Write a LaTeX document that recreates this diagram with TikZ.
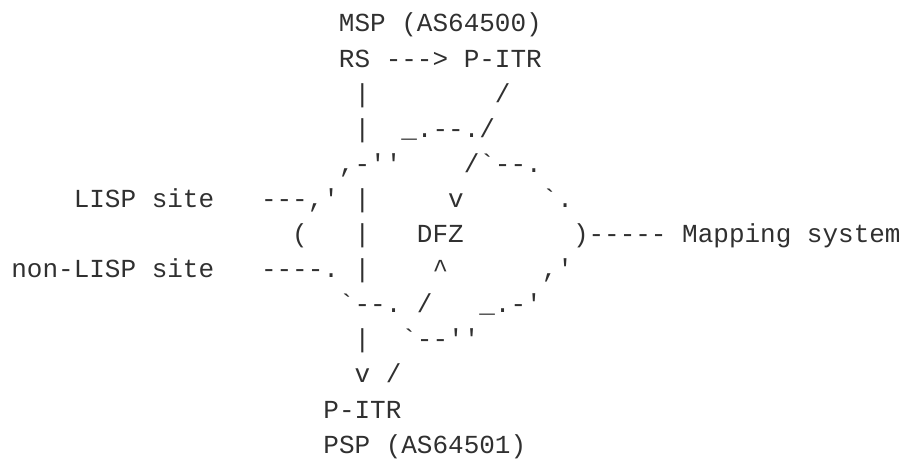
\documentclass[tikz,border=0pt]{standalone}
\usepackage{fontspec}
\setmonofont{Liberation Mono}
\usepackage{tikz}
\usepackage{xcolor}
\definecolor{ink-gray}{HTML}{303030}
\tikzset{
    ascii-art/.style = {font=\ttfamily\fontsize{13}{17}\selectfont, text=ink-gray, inner sep=0pt, anchor=base west},
    ascii-label/.style = {ascii-art},
}

\begin{document}
\begin{tikzpicture}[x=7.8pt, y=-17.55pt]
\useasboundingbox (-5.5pt,16pt) rectangle (445.5pt,-216pt);
% top: map server provider
\node[ascii-label] (msp) at (21,0) {MSP (AS64500)};
\node[ascii-label] (rs) at (21,1) {RS};
\node[ascii-art] (rs-arrow) at (24,1) {--->};
\node[ascii-label] (pitr-top) at (29,1) {P-ITR};
\node[ascii-art] (bar-a) at (22,2) {|};
\node[ascii-art] (slash-a) at (31,2) {/};
\node[ascii-art] (bar-b) at (22,3) {|};
\node[ascii-art] (curve-a) at (25,3) {\_.--./};
% the cloud
\node[ascii-art] (cloud-nw) at (21,4) {,-''};
\node[ascii-art] (cloud-ne) at (29,4) {/`--.};
\node[ascii-label] (lisp-site) at (4,5) {LISP site};
\node[ascii-art] (lisp-link) at (16,5) {---,'};
\node[ascii-art] (bar-c) at (22,5) {|};
\node[ascii-art] (down-tip) at (28,5) {v};
\node[ascii-art] (cloud-e) at (34,5) {`.};
\node[ascii-art] (cloud-w) at (18,6) {(};
\node[ascii-art] (bar-d) at (22,6) {|};
\node[ascii-label] (dfz) at (26,6) {DFZ};
\node[ascii-art] (map-link) at (36,6) {)-----};
\node[ascii-label] (mapping) at (43,6) {Mapping system};
\node[ascii-label] (non-lisp) at (0,7) {non-LISP site};
\node[ascii-art] (non-lisp-link) at (16,7) {----.};
\node[ascii-art] (bar-e) at (22,7) {|};
\node[ascii-art] (up-tip) at (27,7) {\textasciicircum};
\node[ascii-art] (cloud-se) at (34,7) {,'};
\node[ascii-art] (cloud-sw) at (21,8) {`--.};
\node[ascii-art] (slash-b) at (26,8) {/};
\node[ascii-art] (cloud-s) at (30,8) {\_.-'};
% bottom: proxy service provider
\node[ascii-art] (bar-f) at (22,9) {|};
\node[ascii-art] (curve-b) at (25,9) {`--''};
\node[ascii-art] (bottom-tip) at (22,10) {v};
\node[ascii-art] (slash-c) at (24,10) {/};
\node[ascii-label] (pitr-bottom) at (20,11) {P-ITR};
\node[ascii-label] (psp) at (20,12) {PSP (AS64501)};
\end{tikzpicture}
\end{document}
